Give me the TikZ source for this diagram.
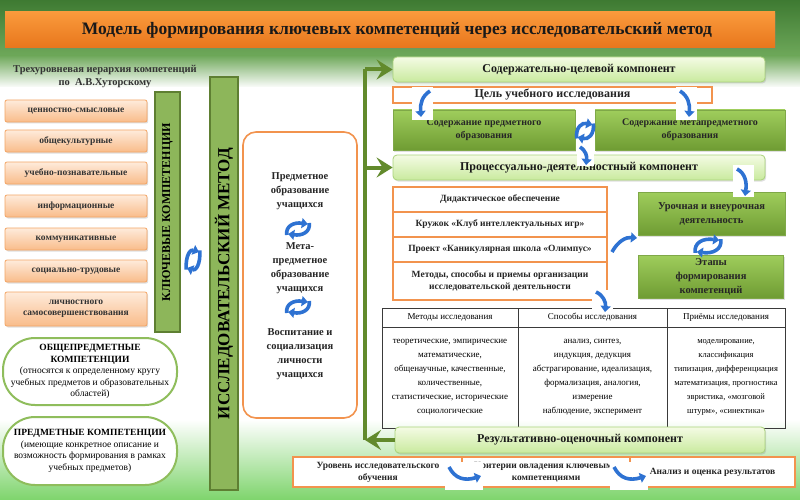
\documentclass[tikz,border=0pt]{standalone}
\usepackage{fontspec}
\setmainfont{Liberation Serif}
\usetikzlibrary{arrows.meta,shadows}
\newcommand\myfs[2]{\fontsize{#1}{#2}\selectfont}
\definecolor{bgTop}{HTML}{3E7A32}
\definecolor{bgMid}{HTML}{6EA85A}
\definecolor{bgBot}{HTML}{7ED46C}
\definecolor{tiTop}{HTML}{FA9A3C}
\definecolor{tiBot}{HTML}{E8761C}
\definecolor{orTop}{HTML}{FEEBDB}
\definecolor{orBot}{HTML}{F9BC8A}
\definecolor{orB}{HTML}{F3A565}
\definecolor{oline}{HTML}{F2934E}
\definecolor{lgTop}{HTML}{F4FBE4}
\definecolor{lgBot}{HTML}{C9EA9E}
\definecolor{lgB}{HTML}{A9D27A}
\definecolor{dgTop}{HTML}{9FCD5C}
\definecolor{dgBot}{HTML}{6F9C33}
\definecolor{dgB}{HTML}{7FA848}
\definecolor{barF}{HTML}{8DB65A}
\definecolor{barB}{HTML}{5E7F32}
\definecolor{ovB}{HTML}{8FBD5C}
\definecolor{gLine}{HTML}{628A2C}
\definecolor{bArr}{HTML}{2E72D2}
\definecolor{tLine}{HTML}{3A3A3A}
\tikzset{
  shd/.style={drop shadow={opacity=0.25,shadow xshift=1.2pt,shadow yshift=-1.5pt}},
  titlebox/.style={shd,draw=none,top color=tiTop,bottom color=tiBot,minimum width=770pt,minimum height=36pt,font=\myfs{17.5}{20}\bfseries,text=black!90},
  obox/.style={shd,draw=orB,line width=0.8pt,rounded corners=2pt,top color=orTop,bottom color=orBot,minimum width=142pt,minimum height=22pt,inner sep=1pt,align=center,font=\myfs{9.5}{11.5}\bfseries,text=black!80},
  lgbox/.style={shd,draw=lgB,line width=0.8pt,rounded corners=4pt,top color=lgTop,bottom color=lgBot,inner sep=1pt,align=center,font=\myfs{12}{14}\bfseries,text=black!90},
  dgbox/.style={shd,draw=dgB,line width=0.5pt,top color=dgTop,bottom color=dgBot,inner sep=1pt,align=center,font=\myfs{10}{12.5}\bfseries,text=black!85},
  wobox/.style={draw=oline,line width=1.6pt,fill=white,inner sep=1pt,align=center,font=\myfs{9.5}{12}\bfseries,text=black!85},
  gbar/.style={draw=barB,line width=1.5pt,fill=barF},
  ovalbox/.style={draw=ovB,line width=2pt,fill=white,rounded corners=32pt,minimum width=174pt,align=center,font=\myfs{9.5}{11.5},inner sep=1pt},
  midtext/.style={align=center,font=\myfs{10.5}{14}\bfseries,text=black!85},
  tcell/.style={draw=tLine,line width=1pt,align=center,inner sep=1pt,font=\myfs{9}{14}},
  gconn/.style={draw=gLine,line width=4pt},
  garrow/.style={gconn,-{Stealth[length=16pt,width=20pt,inset=6pt]}},
  bluearr/.style={draw=bArr,line width=3.6pt,-{Triangle[length=6pt,width=10pt]}},
  wbg/.style={fill=white,draw=none},
  refr/.pic={
    \draw[bluearr] (-8,6) .. controls (-9,-3) and (-3,-7) .. (7,-5);
    \draw[bluearr] (8,-6) .. controls (9,3) and (3,7) .. (-7,5);
  }
}
\begin{document}
\begin{tikzpicture}[x=1pt,y=-1pt]
\useasboundingbox (0,0) rectangle (800,500);
% background
\shade[top color=bgTop,bottom color=bgMid] (0,0) rectangle (800,56);
\shade[top color=bgMid,bottom color=white] (0,55.5) rectangle (800,88);
\fill[white] (0,87.5) rectangle (800,420);
\shade[top color=white,bottom color=bgBot] (0,419.5) rectangle (800,500);

% title
\node[titlebox] (title) at (390,30) {\hspace*{14pt}Модель формирования ключевых компетенций через исследовательский метод};

% left column
\node[align=center,font=\myfs{10.5}{13}\bfseries,text=black!80] (hier) at (105,77) {Трехуровневая иерархия компетенций\\по\ \ А.В.Хуторскому};
\node[obox] (c1) at (76,111) {ценностно-смысловые};
\node[obox] (c2) at (76,141) {общекультурные};
\node[obox] (c3) at (76,173) {учебно-познавательные};
\node[obox] (c4) at (76,206) {информационные};
\node[obox] (c5) at (76,239) {коммуникативные};
\node[obox] (c6) at (76,271) {социально-трудовые};
\node[obox,minimum height=34pt] (c7) at (76,309) {личностного\\самосовершенствования};

\node[gbar,minimum width=25pt,minimum height=240pt] (kk) at (167.5,212) {};
\node[rotate=90,font=\myfs{12}{14}\bfseries] (kkt) at (kk.center) {КЛЮЧЕВЫЕ КОМПЕТЕНЦИИ};

\node[ovalbox,minimum height=67pt] (ov1) at (90,371.5) {\textbf{ОБЩЕПРЕДМЕТНЫЕ}\\\textbf{КОМПЕТЕНЦИИ}\\(относятся к определенному кругу\\учебных предметов и образовательных\\областей)};
\node[ovalbox,minimum height=68pt] (ov2) at (90,451) {\textbf{ПРЕДМЕТНЫЕ КОМПЕТЕНЦИИ}\\(имеющие конкретное описание и\\возможность формирования в рамках\\учебных предметов)};

% research method bar
\node[gbar,minimum width=28pt,minimum height=413pt] (im) at (224,283.5) {};
\node[rotate=90,font=\myfs{17}{20}\bfseries] (imt) at (im.center) {ИССЛЕДОВАТЕЛЬСКИЙ МЕТОД};

% middle box
\node[draw=oline,line width=1.6pt,fill=white,rounded corners=13pt,minimum width=114pt,minimum height=286pt] (mb) at (300,275) {};
\node[midtext] (m1) at (300,191) {Предметное\\образование\\учащихся};
\node[midtext] (m2) at (300,268) {Мета-\\предметное\\образование\\учащихся};
\node[midtext] (m3) at (300,354) {Воспитание и\\социализация\\личности\\учащихся};

% right column
\node[lgbox,minimum width=372pt,minimum height=25pt] (sod) at (579,69.5) {Содержательно-целевой компонент};
\node[wobox,minimum width=319pt,minimum height=16pt,font=\myfs{12}{14}\bfseries] (cel) at (552.5,95) {Цель учебного исследования};
\node[dgbox,minimum width=182pt,minimum height=40pt] (sp) at (484,130) {Содержание предметного\\образования};
\node[dgbox,minimum width=190pt,minimum height=40pt] (smp) at (690,130) {Содержание метапредметного\\образования};
\node[lgbox,minimum width=372pt,minimum height=25pt] (proc) at (579,167.5) {Процессуально-деятельностный компонент};

\node[wobox,minimum width=214pt,minimum height=25pt] (l1) at (500,199.5) {Дидактическое обеспечение};
\node[wobox,minimum width=214pt,minimum height=25pt] (l2) at (500,224.5) {Кружок «Клуб интеллектуальных игр»};
\node[wobox,minimum width=214pt,minimum height=25pt] (l3) at (500,249.5) {Проект «Каникулярная школа «Олимпус»};
\node[wobox,minimum width=214pt,minimum height=38pt] (l4) at (500,281) {Методы, способы и приемы организации\\исследовательской деятельности};

\node[dgbox,minimum width=147pt,minimum height=43pt,font=\myfs{10.5}{14}\bfseries] (ur) at (711.5,213.5) {Урочная и внеурочная\\деятельность};
\node[dgbox,minimum width=145pt,minimum height=43pt,font=\myfs{10.5}{14}\bfseries] (et) at (711,276.5) {Этапы\\формирования\\компетенций};

% table
\node[tcell,minimum width=136pt,minimum height=19pt] (th1) at (450,317.5) {Методы исследования};
\node[tcell,minimum width=149pt,minimum height=19pt] (th2) at (592.5,317.5) {Способы исследования};
\node[tcell,minimum width=118pt,minimum height=19pt] (th3) at (726,317.5) {Приёмы исследования};
\node[tcell,minimum width=136pt,minimum height=101pt] (tb1) at (450,377.5) {теоретические, эмпирические\\математические,\\общенаучные, качественные,\\количественные,\\статистические, исторические\\социологические};
\node[tcell,minimum width=149pt,minimum height=101pt] (tb2) at (592.5,377.5) {анализ, синтез,\\индукция, дедукция\\абстрагирование, идеализация,\\формализация, аналогия,\\измерение\\наблюдение, эксперимент};
\node[tcell,minimum width=118pt,minimum height=101pt,font=\myfs{8.5}{14}] (tb3) at (726,377.5) {моделирование,\\классификация\\типизация, дифференциация\\математизация, прогностика\\эвристика, «мозговой\\штурм», «синектика»};

\node[lgbox,minimum width=370pt,minimum height=26pt] (res) at (580,440) {Результативно-оценочный компонент};
\node[wobox,minimum width=170pt,minimum height=30pt] (b1) at (378,472) {Уровень исследовательского\\обучения};
\node[wobox,minimum width=168pt,minimum height=30pt] (b2) at (546,472) {Критерии овладения ключевыми\\компетенциями};
\node[wobox,minimum width=165pt,minimum height=30pt] (b3) at (712.5,472) {Анализ и оценка результатов};

% green connector
\coordinate (gc) at (365,440);
\coordinate (gt) at (365,69.5);
\draw[garrow] (res.west) -- (gc);
\draw[gconn] (gc) -- (gt);
\draw[garrow] (gt) -- (sod.west);
\draw[garrow] (gc |- proc.west) -- (proc.west);

% blue arrows
\fill[wbg] (412,87) rectangle (433,120);
\draw[bluearr] (430,91) .. controls (422,96) and (420,104) .. (421,117);
\fill[wbg] (676,87) rectangle (697,120);
\draw[bluearr] (680,91) .. controls (688,96) and (690,104) .. (689,117);
\pic[xscale=1.05,yscale=1.25] at (585,131) {refr};
\fill[wbg] (577,145) rectangle (594,166);
\draw[bluearr] (580,147) .. controls (586,151) and (587,156) .. (586,165);
\fill[wbg] (733,165) rectangle (754,197);
\draw[bluearr] (737,169) .. controls (745,173) and (747,182) .. (745,196);
\draw[bluearr] (612,252) .. controls (618,241) and (626,237) .. (637,238);
\pic[xscale=1.6,yscale=1.15] at (708,246) {refr};
\fill[wbg] (592,290) rectangle (613,313);
\draw[bluearr] (596,292) .. controls (603,295) and (606,302) .. (605,312);
\pic[xscale=0.85,yscale=1.6] at (193,260) {refr};
\pic[xscale=1.4,yscale=1.0] at (298,229) {refr};
\pic[xscale=1.4,yscale=1.0] at (298,307) {refr};
\fill[wbg] (445,462) rectangle (483,490);
\draw[bluearr] (449,467) .. controls (455,479) and (465,481) .. (481,476);
\fill[wbg] (610,462) rectangle (648,490);
\draw[bluearr] (614,467) .. controls (620,479) and (630,481) .. (646,476);
\end{tikzpicture}
\end{document}
